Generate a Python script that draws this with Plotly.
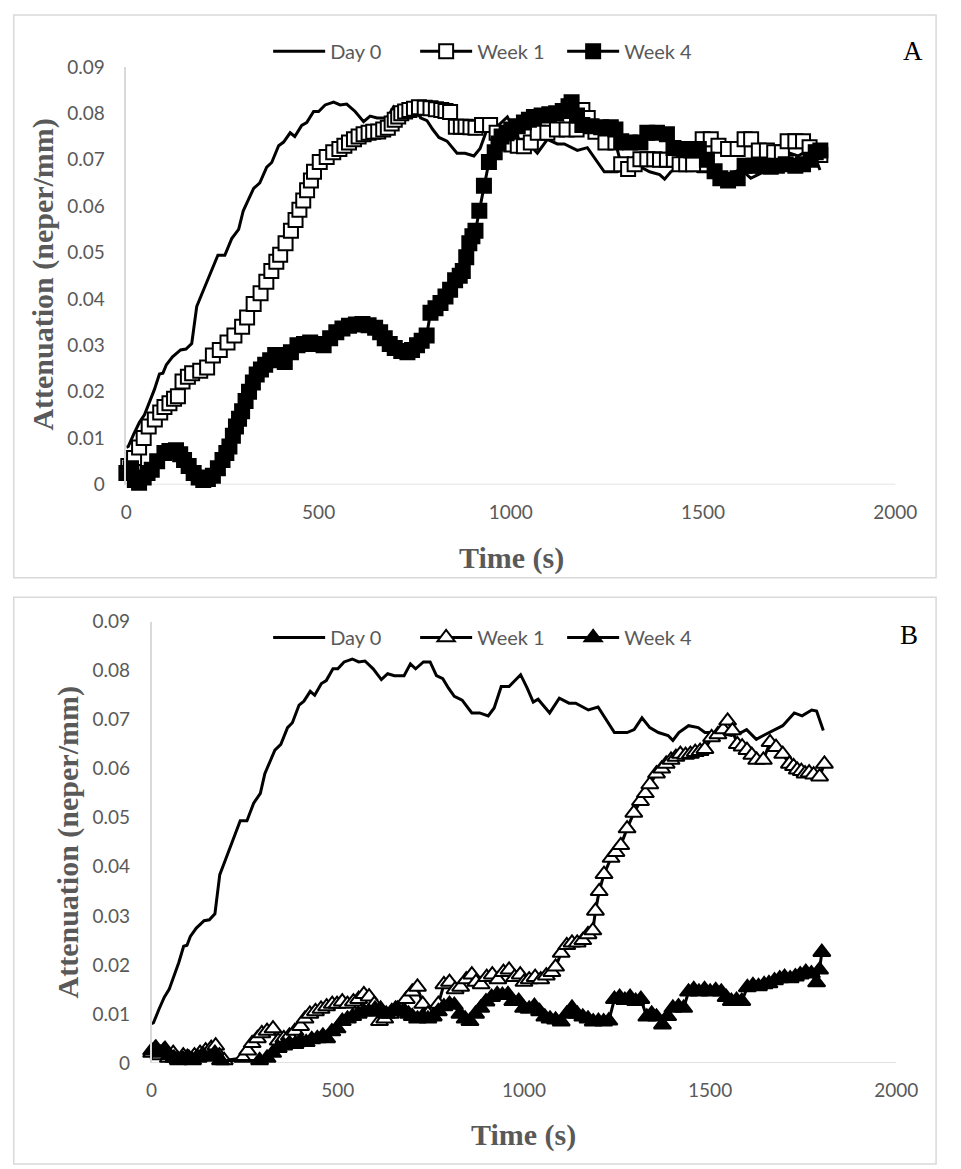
import plotly.graph_objects as go

# ---------------- data ----------------
day0_t = [0, 5, 20, 34, 47, 60, 73, 86, 95, 104, 120, 141, 155, 170, 183, 196, 211, 226, 238, 256,
          274, 292, 304, 318, 331, 347, 365, 378, 396, 409, 426, 438, 456, 469, 487, 500, 517, 539,
          556, 573, 595, 617, 634, 652, 678, 695, 709, 730, 748, 765, 782, 797, 813, 834, 860, 881,
          904, 920, 939, 960, 991, 1009, 1025, 1038, 1069, 1095, 1121, 1139, 1155, 1173, 1199, 1217,
          1243, 1277, 1296, 1317, 1338, 1361, 1387, 1400, 1416, 1442, 1468, 1486, 1520, 1557, 1583,
          1598, 1624, 1643, 1669, 1695, 1726, 1747, 1773, 1786, 1804]
day0_v = [0.0080, 0.0082, 0.0110, 0.0134, 0.0150, 0.0178, 0.0205, 0.0238, 0.0240, 0.0258, 0.0275,
          0.0290, 0.0292, 0.0304, 0.0384, 0.0410, 0.0440, 0.0470, 0.0494, 0.0494, 0.0530, 0.0550,
          0.0590, 0.0615, 0.0638, 0.0650, 0.0684, 0.0694, 0.0730, 0.0738, 0.0758, 0.0750, 0.0774,
          0.0780, 0.0804, 0.0804, 0.0818, 0.0824, 0.0818, 0.0820, 0.0804, 0.0782, 0.0794, 0.0790,
          0.0790, 0.0814, 0.0804, 0.0818, 0.0818, 0.0790, 0.0784, 0.0765, 0.0748, 0.0740, 0.0714,
          0.0714, 0.0708, 0.0724, 0.0768, 0.0768, 0.0792, 0.0764, 0.0736, 0.0742, 0.0714, 0.0744,
          0.0734, 0.0734, 0.0728, 0.0720, 0.0726, 0.0704, 0.0674, 0.0674, 0.0680, 0.0704, 0.0684,
          0.0674, 0.0668, 0.0658, 0.0674, 0.0688, 0.0684, 0.0674, 0.0674, 0.0668, 0.0674, 0.0680,
          0.0660, 0.0668, 0.0678, 0.0688, 0.0714, 0.0708, 0.0720, 0.0718, 0.0678]

a_wk1_t = [5, 20, 33, 45, 58, 74, 88, 99, 112, 124, 134, 146, 160, 171, 192, 210, 225, 243, 263, 281,
           301, 314, 331, 349, 364, 377, 390, 400, 414, 428, 440, 450, 460, 470, 480, 488, 503, 521,
           538, 554, 567, 579, 592, 604, 617, 630, 642, 655, 668, 680, 690, 698, 707, 715, 725, 736,
           748, 761, 776, 791, 805, 819, 830, 842, 857, 870, 882, 895, 908, 925, 946, 963, 984, 1001,
           1018, 1034, 1052, 1070, 1095, 1120, 1145, 1171, 1186, 1200, 1220, 1246, 1272, 1287, 1305,
           1322, 1337, 1355, 1373, 1388, 1406, 1424, 1439, 1456, 1474, 1499, 1520, 1540, 1565, 1590,
           1608, 1625, 1645, 1666, 1685, 1705, 1720, 1740, 1760, 1777, 1795, 1805]
a_wk1_v = [0.0040, 0.0057, 0.0080, 0.0100, 0.0125, 0.0140, 0.0155, 0.0167, 0.0175, 0.0185, 0.0190,
           0.0222, 0.0232, 0.0240, 0.0245, 0.0252, 0.0278, 0.0290, 0.0306, 0.0321, 0.0340, 0.0360,
           0.0389, 0.0412, 0.0437, 0.0460, 0.0480, 0.0495, 0.0520, 0.0547, 0.0570, 0.0592, 0.0612,
           0.0634, 0.0655, 0.0674, 0.0695, 0.0706, 0.0716, 0.0723, 0.0730, 0.0737, 0.0744, 0.0750,
           0.0755, 0.0758, 0.0760, 0.0761, 0.0765, 0.0769, 0.0778, 0.0786, 0.0793, 0.0800, 0.0804,
           0.0807, 0.0810, 0.0813, 0.0812, 0.0811, 0.0809, 0.0807, 0.0805, 0.0803, 0.0771, 0.0771,
           0.0771, 0.0770, 0.0769, 0.0775, 0.0775, 0.0758, 0.0740, 0.0733, 0.0730, 0.0729, 0.0737,
           0.0758, 0.0758, 0.0765, 0.0765, 0.0765, 0.0807, 0.0790, 0.0760, 0.0737, 0.0737, 0.0690,
           0.0680, 0.0690, 0.0701, 0.0701, 0.0701, 0.0700, 0.0700, 0.0700, 0.0690, 0.0690, 0.0690,
           0.0744, 0.0744, 0.0730, 0.0723, 0.0723, 0.0744, 0.0744, 0.0720, 0.0720, 0.0716, 0.0716,
           0.0740, 0.0740, 0.0740, 0.0727, 0.0715, 0.0710]

a_wk4_t = [0, 12, 22, 33, 45, 55, 66, 80, 99, 112, 129, 140, 150, 162, 175, 188, 200, 212, 225, 238,
           250, 260, 268, 277, 285, 293, 301, 310, 319, 329, 339, 350, 361, 374, 387, 400, 412, 428,
           445, 462, 478, 495, 513, 530, 546, 562, 579, 597, 614, 630, 647, 660, 672, 685, 698, 715,
           731, 743, 756, 768, 781, 791, 804, 817, 830, 842, 855, 867, 875, 884, 892, 900, 908, 918,
           930, 943, 958, 968, 976, 989, 1001, 1018, 1034, 1047, 1060, 1080, 1100, 1118, 1135, 1150,
           1158, 1172, 1186, 1210, 1235, 1260, 1272, 1287, 1310, 1337, 1355, 1380, 1406, 1423, 1450,
           1470, 1489, 1510, 1530, 1545, 1565, 1590, 1608, 1630, 1655, 1676, 1692, 1715, 1740, 1760,
           1780, 1793, 1805]
a_wk4_v = [0.0025, 0.0035, 0.0010, 0.0004, 0.0015, 0.0025, 0.0032, 0.0050, 0.0068, 0.0072, 0.0074,
           0.0065, 0.0053, 0.0040, 0.0025, 0.0015, 0.0010, 0.0012, 0.0019, 0.0035, 0.0053, 0.0068,
           0.0082, 0.0105, 0.0125, 0.0142, 0.0158, 0.0180, 0.0200, 0.0220, 0.0237, 0.0248, 0.0258,
           0.0268, 0.0279, 0.0272, 0.0264, 0.0285, 0.0300, 0.0303, 0.0306, 0.0303, 0.0300, 0.0315,
           0.0328, 0.0336, 0.0342, 0.0345, 0.0346, 0.0343, 0.0338, 0.0328, 0.0315, 0.0303, 0.0294,
           0.0288, 0.0285, 0.0290, 0.0300, 0.0310, 0.0321, 0.0370, 0.0380, 0.0391, 0.0405, 0.0420,
           0.0440, 0.0450, 0.0460, 0.0490, 0.0520, 0.0535, 0.0547, 0.0590, 0.0644, 0.0695, 0.0716,
           0.0735, 0.0750, 0.0757, 0.0765, 0.0772, 0.0780, 0.0786, 0.0792, 0.0795, 0.0798, 0.0800,
           0.0805, 0.0815, 0.0824, 0.0795, 0.0775, 0.0772, 0.0770, 0.0770, 0.0765, 0.0740, 0.0737,
           0.0737, 0.0758, 0.0758, 0.0755, 0.0725, 0.0723, 0.0720, 0.0723, 0.0700, 0.0675, 0.0660,
           0.0655, 0.0660, 0.0687, 0.0687, 0.0687, 0.0685, 0.0687, 0.0690, 0.0687, 0.0690, 0.0700,
           0.0716, 0.0720]

b_wk1_t = [0, 10, 20, 32, 45, 58, 70, 85, 100, 115, 130, 145, 160, 172, 182, 195, 245, 258, 270, 284,
           296, 310, 326, 340, 355, 370, 385, 400, 412, 425, 440, 455, 470, 485, 498, 512, 526, 542,
           556, 570, 584, 598, 612, 626, 641, 655, 670, 684, 700, 714, 728, 742, 756, 770, 785, 800,
           815, 830, 845, 860, 871, 885, 900, 915, 930, 945, 960, 975, 990, 1000, 1014, 1030, 1045,
           1060, 1075, 1085, 1100, 1115, 1129, 1143, 1158, 1172, 1185, 1192, 1202, 1215, 1234, 1247,
           1260, 1277, 1295, 1313, 1326, 1338, 1356, 1370, 1382, 1395, 1408, 1420, 1434, 1447, 1460,
           1473, 1486, 1504, 1521, 1535, 1547, 1560, 1573, 1586, 1599, 1612, 1625, 1643, 1661, 1677,
           1695, 1713, 1724, 1734, 1745, 1755, 1766, 1778, 1794, 1807]
b_wk1_v = [0.0020, 0.0030, 0.0015, 0.0025, 0.0010, 0.0020, 0.0008, 0.0015, 0.0010, 0.0015, 0.0020,
           0.0025, 0.0030, 0.0035, 0.0015, 0.0005, 0.0010, 0.0025, 0.0040, 0.0050, 0.0060, 0.0065,
           0.0070, 0.0045, 0.0050, 0.0055, 0.0065, 0.0075, 0.0090, 0.0100, 0.0105, 0.0110, 0.0115,
           0.0120, 0.0120, 0.0125, 0.0120, 0.0125, 0.0130, 0.0140, 0.0135, 0.0120, 0.0085, 0.0090,
           0.0100, 0.0110, 0.0115, 0.0130, 0.0145, 0.0155, 0.0120, 0.0100, 0.0095, 0.0120, 0.0160,
           0.0165, 0.0150, 0.0155, 0.0170, 0.0180, 0.0165, 0.0160, 0.0175, 0.0180, 0.0170, 0.0185,
           0.0190, 0.0175, 0.0180, 0.0165, 0.0170, 0.0175, 0.0170, 0.0178, 0.0185, 0.0196, 0.0224,
           0.0240, 0.0245, 0.0245, 0.0250, 0.0262, 0.0270, 0.0310, 0.0350, 0.0385, 0.0418, 0.0430,
           0.0444, 0.0478, 0.0510, 0.0534, 0.0550, 0.0568, 0.0590, 0.0600, 0.0610, 0.0618, 0.0624,
           0.0630, 0.0628, 0.0630, 0.0634, 0.0636, 0.0640, 0.0664, 0.0670, 0.0680, 0.0698, 0.0678,
           0.0650, 0.0645, 0.0638, 0.0628, 0.0618, 0.0618, 0.0654, 0.0644, 0.0630, 0.0610, 0.0605,
           0.0598, 0.0595, 0.0590, 0.0592, 0.0588, 0.0584, 0.0610]

b_wk4_t = [0, 12, 24, 36, 48, 60, 72, 84, 96, 110, 125, 140, 155, 170, 185, 290, 310, 325, 340, 355,
           370, 385, 400, 415, 430, 445, 460, 470, 484, 498, 512, 526, 540, 555, 570, 584, 600, 615,
           630, 645, 660, 675, 690, 700, 714, 728, 742, 756, 770, 785, 800, 813, 828, 842, 855, 870,
           884, 898, 913, 928, 942, 957, 970, 986, 999, 1014, 1028, 1042, 1056, 1070, 1085, 1100,
           1115, 1129, 1143, 1158, 1172, 1186, 1200, 1214, 1228, 1243, 1257, 1271, 1285, 1300, 1314,
           1330, 1343, 1356, 1372, 1386, 1400, 1415, 1429, 1442, 1456, 1470, 1485, 1500, 1515, 1530,
           1543, 1557, 1571, 1585, 1600, 1615, 1630, 1645, 1658, 1673, 1687, 1700, 1715, 1729, 1742,
           1757, 1772, 1786, 1794, 1800]
b_wk4_v = [0.0025, 0.0030, 0.0020, 0.0028, 0.0015, 0.0010, 0.0005, 0.0008, 0.0012, 0.0005, 0.0010,
           0.0015, 0.0012, 0.0020, 0.0005, 0.0005, 0.0010, 0.0020, 0.0030, 0.0035, 0.0040, 0.0038,
           0.0045, 0.0042, 0.0048, 0.0050, 0.0055, 0.0050, 0.0064, 0.0070, 0.0085, 0.0090, 0.0095,
           0.0100, 0.0105, 0.0104, 0.0110, 0.0110, 0.0100, 0.0105, 0.0110, 0.0105, 0.0100, 0.0095,
           0.0090, 0.0095, 0.0090, 0.0094, 0.0105, 0.0115, 0.0120, 0.0118, 0.0100, 0.0090, 0.0085,
           0.0100, 0.0112, 0.0125, 0.0134, 0.0140, 0.0138, 0.0140, 0.0126, 0.0126, 0.0112, 0.0110,
           0.0116, 0.0105, 0.0094, 0.0090, 0.0088, 0.0084, 0.0100, 0.0112, 0.0100, 0.0094, 0.0090,
           0.0084, 0.0085, 0.0084, 0.0086, 0.0130, 0.0134, 0.0128, 0.0134, 0.0126, 0.0130, 0.0094,
           0.0100, 0.0094, 0.0078, 0.0095, 0.0112, 0.0115, 0.0112, 0.0145, 0.0150, 0.0145, 0.0150,
           0.0145, 0.0148, 0.0145, 0.0134, 0.0126, 0.0128, 0.0126, 0.0154, 0.0158, 0.0156, 0.0160,
           0.0162, 0.0168, 0.0172, 0.0175, 0.0172, 0.0176, 0.0180, 0.0185, 0.0182, 0.0164, 0.0190,
           0.0226]

x_ticks = [0, 500, 1000, 1500, 2000]
y_ticks = [0, 0.01, 0.02, 0.03, 0.04, 0.05, 0.06, 0.07, 0.08, 0.09]
y_tick_text = ["0", "0.01", "0.02", "0.03", "0.04", "0.05", "0.06", "0.07", "0.08", "0.09"]

# ---------------- layout helpers ----------------
W, H = 961, 1169
def px(x):
    return x / W
def py(y):
    return 1 - y / H

GRAY = "#595959"
AXIS = "#d9d9d9"
TICKFONT = dict(family="Lato", size=19, color=GRAY)
TITLEFONT = dict(family="Liberation Serif", size=30, color=GRAY)

fig = go.Figure()

line = dict(color="black", width=3)

# Panel A
fig.add_trace(go.Scatter(x=day0_t, y=day0_v, mode="lines", name="Day 0", line=line,
                         xaxis="x", yaxis="y", legend="legend", cliponaxis=False))
fig.add_trace(go.Scatter(x=a_wk1_t, y=a_wk1_v, mode="lines+markers", name="Week 1", line=line,
                         marker=dict(symbol="square", size=14, color="white",
                                     line=dict(color="black", width=2)),
                         xaxis="x", yaxis="y", legend="legend", cliponaxis=False))
fig.add_trace(go.Scatter(x=a_wk4_t, y=a_wk4_v, mode="lines+markers", name="Week 4", line=line,
                         marker=dict(symbol="square", size=14, color="black",
                                     line=dict(color="black", width=2)),
                         xaxis="x", yaxis="y", legend="legend", cliponaxis=False))
# Panel B
fig.add_trace(go.Scatter(x=day0_t, y=day0_v, mode="lines", name="Day 0", line=line,
                         xaxis="x2", yaxis="y2", legend="legend2", cliponaxis=False))
fig.add_trace(go.Scatter(x=b_wk1_t, y=b_wk1_v, mode="lines+markers", name="Week 1", line=line,
                         marker=dict(symbol="triangle-up", size=15, color="white",
                                     line=dict(color="black", width=2)),
                         xaxis="x2", yaxis="y2", legend="legend2", cliponaxis=False))
fig.add_trace(go.Scatter(x=b_wk4_t, y=b_wk4_v, mode="lines+markers", name="Week 4", line=line,
                         marker=dict(symbol="triangle-up", size=15, color="black",
                                     line=dict(color="black", width=2)),
                         xaxis="x2", yaxis="y2", legend="legend2", cliponaxis=False))

def xaxis(domain, anchor):
    return dict(domain=domain, anchor=anchor, range=[0, 2000], tickvals=x_ticks,
                showgrid=False, zeroline=False, showline=False, ticks="",
                tickfont=TICKFONT, ticklabelstandoff=14, fixedrange=True)

def yaxis(domain, anchor):
    return dict(domain=domain, anchor=anchor, range=[0, 0.09], tickvals=y_ticks,
                ticktext=y_tick_text, showgrid=False, zeroline=False, showline=True,
                linecolor=AXIS, linewidth=1.5, ticks="", tickfont=TICKFONT,
                ticklabelstandoff=16, fixedrange=True)

A_left, A_right, A_top, A_bot = 124, 916, 56, 482
B_left, B_right, B_top, B_bot = 150, 917, 622, 1072

shapes = [
    dict(type="rect", xref="paper", yref="paper", x0=px(8), x1=px(958), y0=py(577), y1=py(3),
         line=dict(color=AXIS, width=1.5)),
    dict(type="rect", xref="paper", yref="paper", x0=px(8), x1=px(958), y0=py(1175), y1=py(597),
         line=dict(color=AXIS, width=1.5)),
    dict(type="line", xref="x domain", yref="y", x0=0, x1=1, y0=0, y1=0,
         line=dict(color=AXIS, width=1.5), layer="below"),
    dict(type="line", xref="x2 domain", yref="y2", x0=0, x1=1, y0=0, y1=0,
         line=dict(color=AXIS, width=1.5), layer="below"),
]

annotations = [
    dict(text="<b>Attenuation (neper/mm)</b>", xref="paper", yref="paper", x=px(38), y=py(268),
         textangle=-90, showarrow=False, font=TITLEFONT, xanchor="center", yanchor="middle"),
    dict(text="<b>Time (s)</b>", xref="paper", yref="paper", x=px(521), y=py(557),
         showarrow=False, font=TITLEFONT, xanchor="center", yanchor="middle"),
    dict(text="<b>Attenuation (neper/mm)</b>", xref="paper", yref="paper", x=px(64), y=py(847),
         textangle=-90, showarrow=False, font=TITLEFONT, xanchor="center", yanchor="middle"),
    dict(text="<b>Time (s)</b>", xref="paper", yref="paper", x=px(533), y=py(1146),
         showarrow=False, font=TITLEFONT, xanchor="center", yanchor="middle"),
    dict(text="A", xref="paper", yref="paper", x=px(934), y=py(40), showarrow=False,
         font=dict(family="Liberation Serif", size=27, color="black"),
         xanchor="center", yanchor="middle"),
    dict(text="B", xref="paper", yref="paper", x=px(930), y=py(636), showarrow=False,
         font=dict(family="Liberation Serif", size=27, color="black"),
         xanchor="center", yanchor="middle"),
]

legend_common = dict(orientation="h", xanchor="left", yanchor="middle",
                     font=dict(family="Lato", size=20, color=GRAY),
                     bgcolor="rgba(0,0,0,0)", itemclick=False, itemdoubleclick=False,
                     tracegroupgap=0, itemwidth=52, entrywidth=80)

fig.update_layout(
    width=W, height=H, margin=dict(l=0, r=0, t=0, b=0),
    paper_bgcolor="white", plot_bgcolor="white",
    xaxis=xaxis([px(A_left), px(A_right)], "y"),
    yaxis=yaxis([py(A_bot), py(A_top)], "x"),
    xaxis2=xaxis([px(B_left), px(B_right)], "y2"),
    yaxis2=yaxis([py(B_bot), py(B_top)], "x2"),
    legend=dict(x=px(270), y=py(40), **legend_common),
    legend2=dict(x=px(270), y=py(638), **legend_common),
    shapes=shapes, annotations=annotations, showlegend=True,
)

fig.write_html("out.html")
